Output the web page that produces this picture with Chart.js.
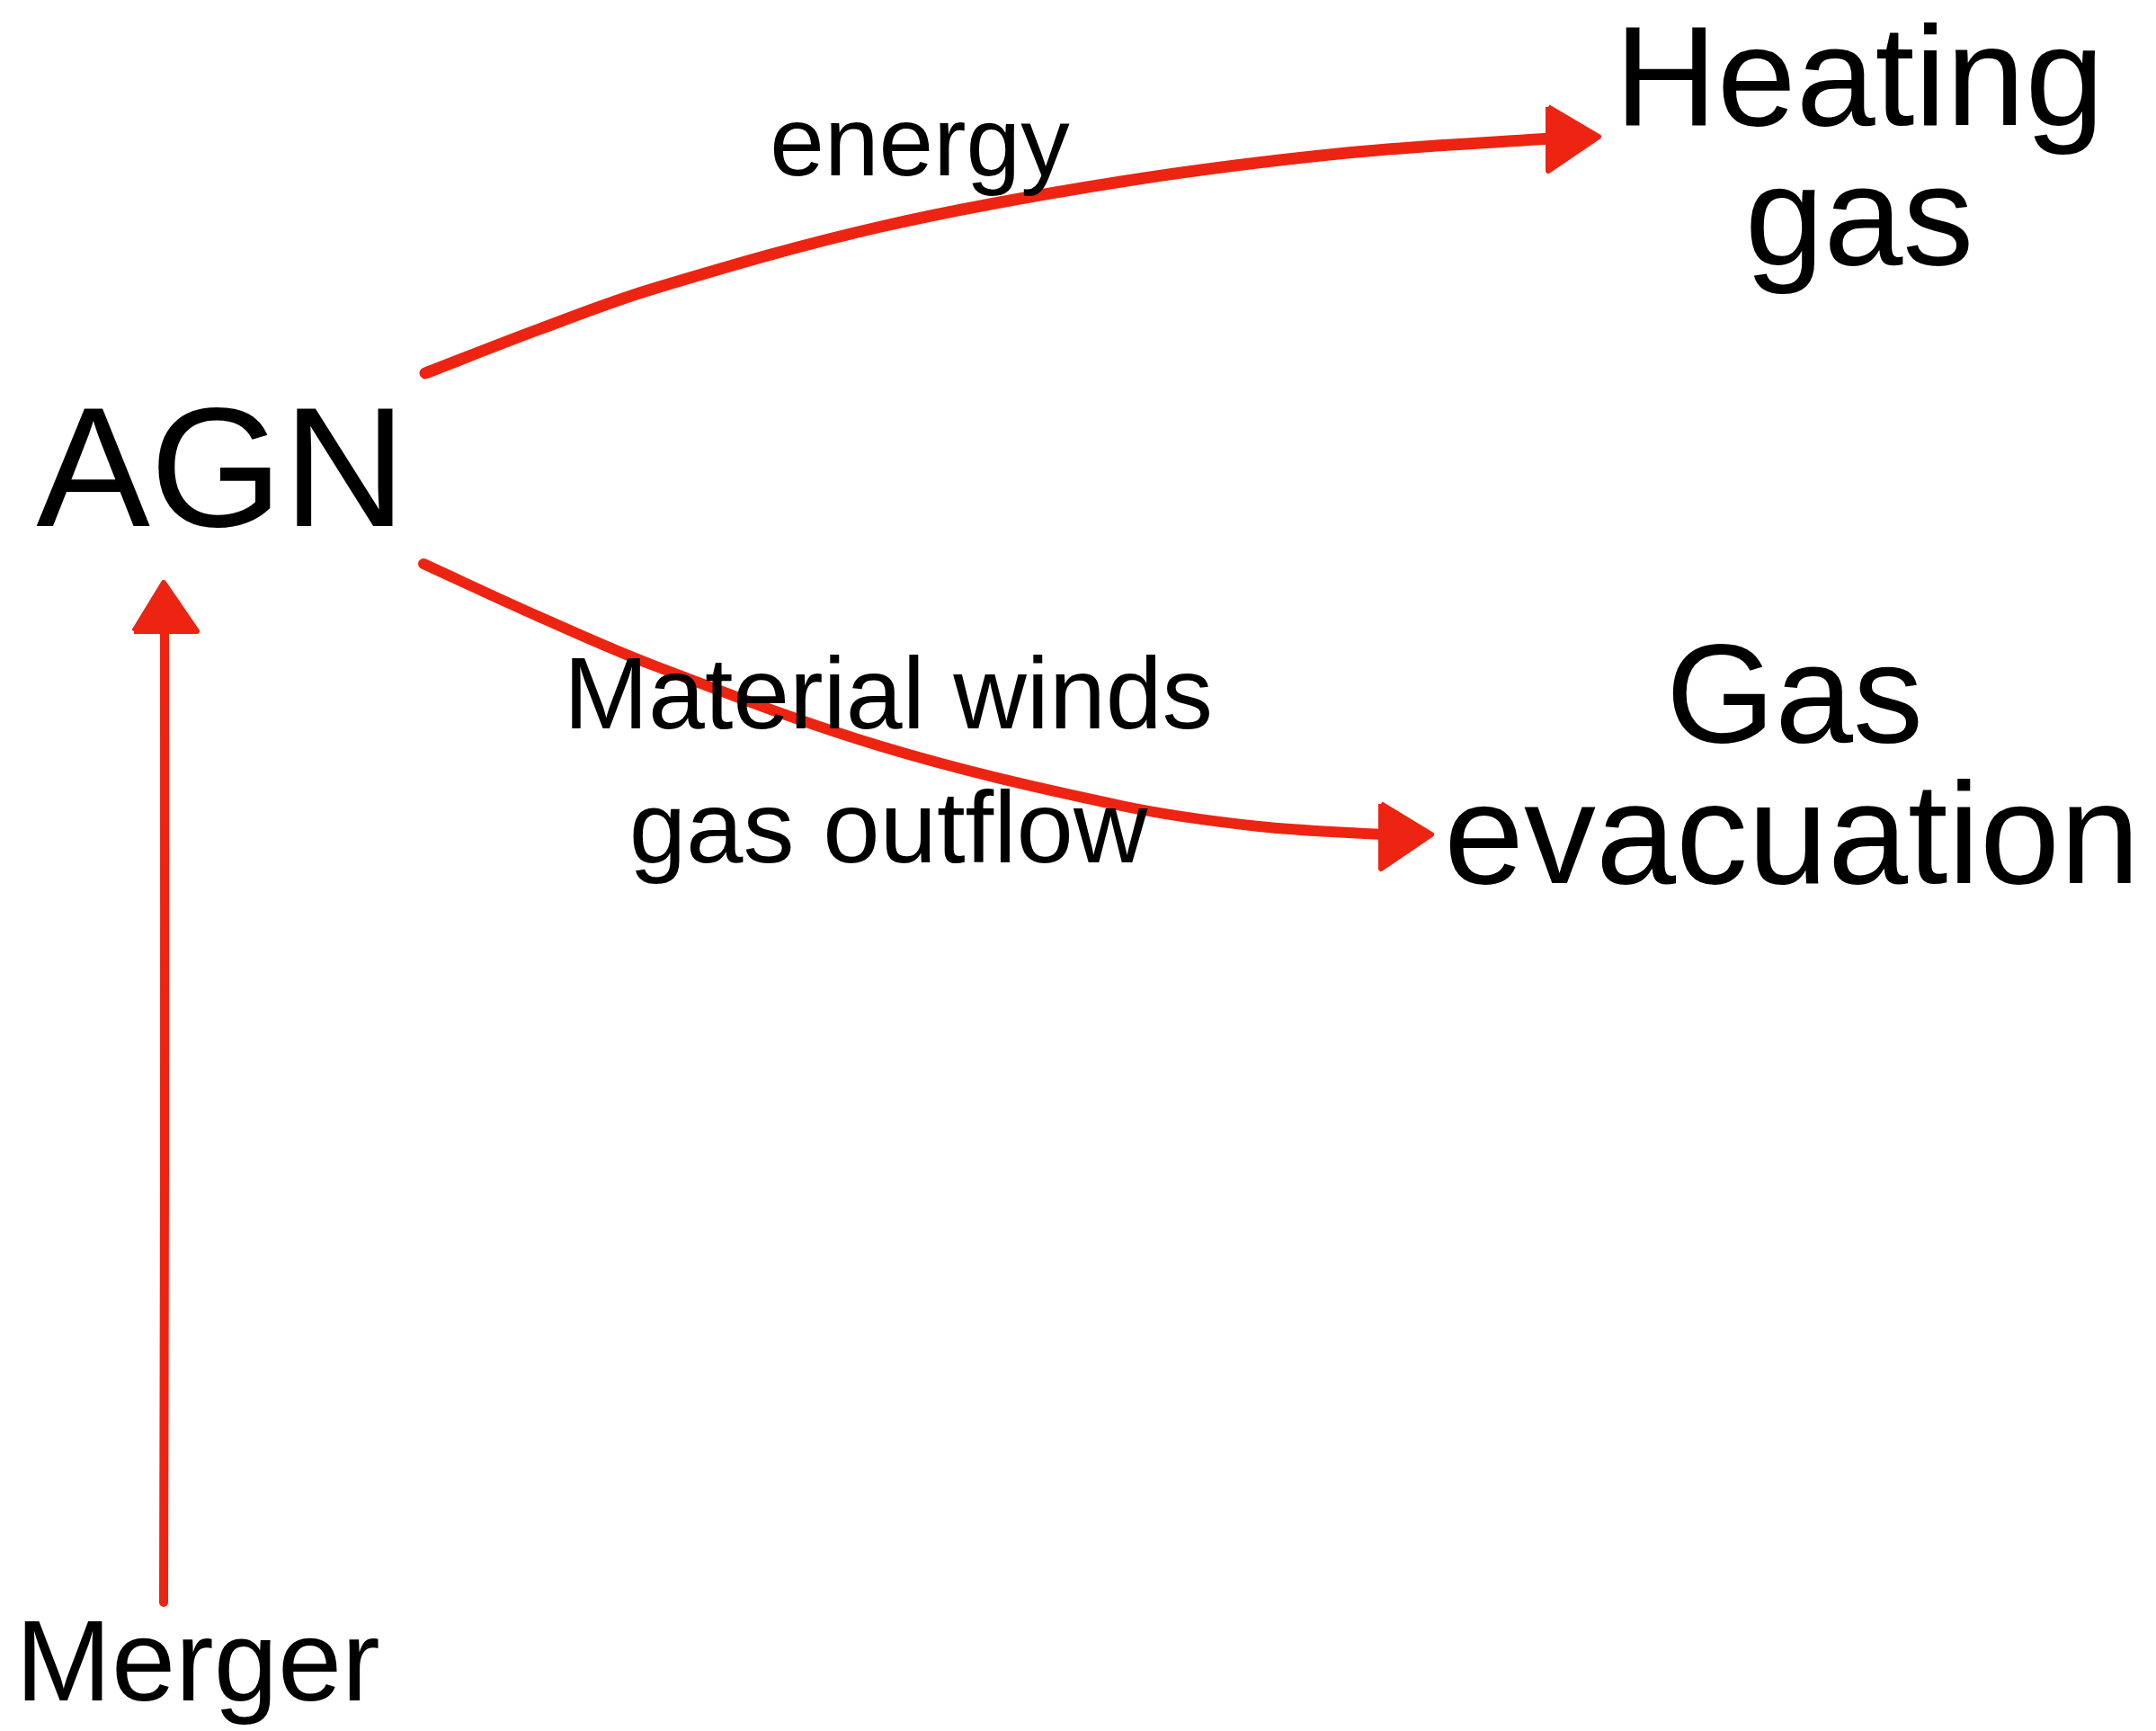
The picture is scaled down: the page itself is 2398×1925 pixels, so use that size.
<!DOCTYPE html>
<html>
<head>
<meta charset="utf-8">
<script src="https://cdn.jsdelivr.net/npm/chart.js@4.4.1/dist/chart.umd.min.js"></script>
<style>
  html, body { margin: 0; padding: 0; background: #fff; }
  #wrap { width: 2398px; height: 1925px; position: relative; }
</style>
</head>
<body>
<div id="wrap"><canvas id="diagram"></canvas></div>
<script>
// Arrow paths, in picture units (x to the right, y downward)
const energyPath = [
    { x: 473, y: 415 }, { x: 600, y: 366 }, { x: 727, y: 321 }, { x: 980, y: 252 },
    { x: 1247, y: 202 }, { x: 1498, y: 170 }, { x: 1724, y: 154 }
];
const energyHead = [{ x: 1722, y: 119 }, { x: 1778, y: 152 }, { x: 1722, y: 190 }, { x: 1722, y: 119 }];

const windPath = [
    { x: 471, y: 627 }, { x: 600, y: 686 }, { x: 727, y: 740 }, { x: 980, y: 830 },
    { x: 1247, y: 896 }, { x: 1400, y: 919 }, { x: 1538, y: 928 }
];
const windHead = [{ x: 1536, y: 894 }, { x: 1592, y: 928 }, { x: 1536, y: 966 }, { x: 1536, y: 894 }];

const mergerPath = [{ x: 182, y: 1782 }, { x: 183, y: 1300 }, { x: 183, y: 703 }];
const mergerHead = [{ x: 149, y: 702 }, { x: 182, y: 648 }, { x: 219, y: 702 }, { x: 149, y: 702 }];

// Text labels and where they sit (centre x, baseline y, font size)
const labelTexts = ["Heating", "gas", "AGN", "Gas", "evacuation", "energy", "Material winds", "gas outflow", "Merger"];
const labelX = [2068, 2068, 246, 1996, 1993, 1023, 988, 988, 220];
const labelY = [139, 294, 585, 825, 982, 195, 810, 959, 1891];
const labelSize = [158, 158, 190, 156, 160, 109, 113, 114, 128];

const red = "rgb(237, 36, 18)";

const textPlugin = {
    id: "diagramText",
    afterDatasetsDraw(chart) {
        const ctx = chart.ctx;
        const xs = chart.scales.x, ys = chart.scales.y;
        ctx.save();
        ctx.fillStyle = "#000";
        ctx.textAlign = "center";
        ctx.textBaseline = "alphabetic";
        labelTexts.forEach((t, i) => {
            ctx.font = labelSize[i] + "px 'Liberation Sans', Arial, sans-serif";
            ctx.fillText(t, xs.getPixelForValue(labelX[i]), ys.getPixelForValue(labelY[i]));
        });
        ctx.restore();
    }
};

function stroke(data, width) {
    return {
        type: "line", data: data, borderColor: red, borderWidth: width,
        borderCapStyle: "round", borderJoinStyle: "round", tension: 0.35,
        pointRadius: 0, fill: false
    };
}
function head(data) {
    return {
        type: "line", data: data, borderColor: red, backgroundColor: red,
        borderWidth: 6, borderJoinStyle: "round", tension: 0,
        pointRadius: 0, fill: "shape"
    };
}

const ctx = document.getElementById("diagram").getContext("2d");
new Chart(ctx, {
    type: "scatter",
    data: {
        datasets: [
            stroke(energyPath, 13), head(energyHead),
            stroke(windPath, 12), head(windHead),
            stroke(mergerPath, 10), head(mergerHead)
        ]
    },
    options: {
        responsive: true,
        maintainAspectRatio: false,
        animation: false,
        layout: { padding: 0 },
        scales: {
            x: { type: "linear", min: 0, max: 2398, display: false },
            y: { type: "linear", min: 0, max: 1925, reverse: true, display: false }
        },
        plugins: { legend: { display: false }, tooltip: { enabled: false } }
    },
    plugins: [textPlugin]
});
</script>
</body>
</html>
